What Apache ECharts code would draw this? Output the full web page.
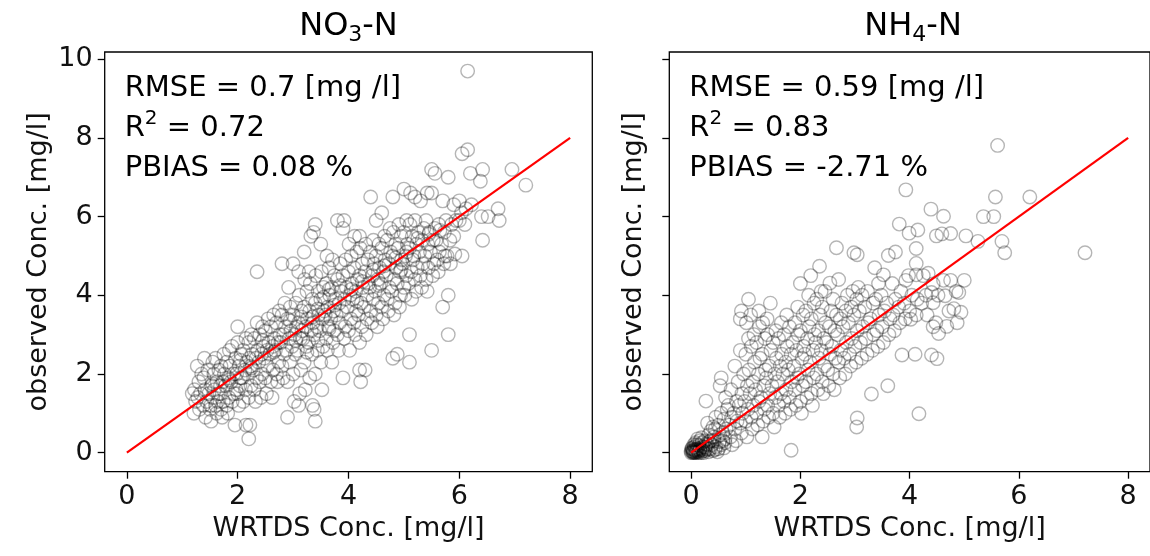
<!DOCTYPE html>
<html><head><meta charset="utf-8">
<script src="https://cdn.jsdelivr.net/npm/echarts@6/dist/echarts.min.js"></script>
<style>html,body{margin:0;padding:0;background:#fff}#c{width:1150px;height:556px}</style>
</head><body><div id="c"></div>
<script>
const xTicks = [0, 2, 4, 6, 8];
const yTicks = [0, 2, 4, 6, 8, 10];
const xLabel = 'WRTDS Conc. [mg/l]';
const yLabel = 'observed Conc. [mg/l]';
const oneToOne = [[0, 0], [8, 8]];
const titleParts = [['NO', '3', '-N'], ['NH', '4', '-N']];
const statsNO3 = ['RMSE = 0.7 [mg /l]', '0.72', 'PBIAS = 0.08 %'];
const statsNH4 = ['RMSE = 0.59 [mg /l]', '0.83', 'PBIAS = -2.71 %'];

const no3Points = [
[1.21,1.0],[1.24,1.3],[1.18,1.5],[1.22,1.6],
[1.31,1.1],[1.28,1.4],[1.33,1.5],[1.3,1.8],[1.27,2.2],[1.35,2.0],
[1.42,0.9],[1.38,1.2],[1.44,1.3],[1.41,1.6],[1.39,1.9],[1.46,2.1],[1.4,2.4],
[1.52,0.8],[1.5,1.1],[1.55,1.4],[1.48,1.5],[1.53,1.7],[1.57,2.0],[1.55,2.3],[1.51,1.2],
[1.62,1.0],[1.6,1.2],[1.64,1.3],[1.58,1.6],[1.63,1.8],[1.66,2.1],[1.6,2.4],[1.65,1.5],
[1.72,0.9],[1.7,1.1],[1.74,1.3],[1.68,1.5],[1.73,1.8],[1.76,2.0],[1.7,2.2],[1.75,2.5],[1.69,1.7],
[1.82,1.0],[1.8,1.2],[1.84,1.4],[1.78,1.7],[1.83,1.9],[1.86,2.2],[1.8,2.3],[1.85,2.6],
[1.95,0.7],[1.9,1.3],[1.94,1.5],[1.88,1.8],[1.93,2.0],[1.96,2.4],[1.9,2.7],[1.97,1.6],
[2.02,1.2],[2.0,1.5],[2.04,1.7],[1.98,2.0],[2.03,2.2],[2.06,2.5],[2.0,2.8],[2.0,3.2],[2.05,1.9],
[2.15,0.7],[2.1,1.3],[2.14,1.6],[2.08,1.9],[2.13,2.1],[2.16,2.3],[2.1,2.6],[2.15,2.9],
[2.2,0.35],[2.22,0.7],[2.2,1.4],[2.24,1.7],[2.18,2.0],[2.23,2.2],[2.26,2.5],[2.2,2.8],[2.25,3.0],[2.21,2.4],
[2.32,1.3],[2.3,1.6],[2.34,1.9],[2.28,2.1],[2.33,2.4],[2.36,2.6],[2.3,2.9],[2.35,3.3],
[2.42,1.4],[2.4,1.8],[2.44,2.0],[2.38,2.3],[2.43,2.5],[2.46,2.7],[2.4,3.0],[2.45,3.2],[2.35,4.6],
[2.52,1.5],[2.5,1.9],[2.54,2.2],[2.48,2.4],[2.53,2.6],[2.56,2.8],[2.5,3.1],[2.55,3.4],
[2.62,1.4],[2.6,1.8],[2.64,2.1],[2.58,2.5],[2.63,2.7],[2.66,2.9],[2.6,3.2],[2.65,3.5],
[2.72,1.8],[2.7,2.0],[2.74,2.3],[2.68,2.6],[2.73,2.8],[2.76,3.0],[2.7,3.3],[2.75,3.6],
[2.82,1.9],[2.8,2.2],[2.84,2.5],[2.78,2.8],[2.83,3.0],[2.86,3.2],[2.8,3.5],[2.85,3.8],[2.8,4.8],
[2.9,0.9],[2.9,1.8],[2.94,2.3],[2.88,2.6],[2.93,2.9],[2.96,3.1],[2.9,3.4],[2.95,3.7],[2.92,4.2],
[3.02,1.3],[3.0,2.0],[3.04,2.5],[2.98,2.7],[3.03,3.0],[3.06,3.2],[3.0,3.5],[3.05,3.8],[3.0,4.8],
[3.1,1.2],[3.12,1.5],[3.14,2.1],[3.08,2.6],[3.13,2.9],[3.16,3.1],[3.1,3.3],[3.15,3.6],[3.11,4.0],[3.1,4.6],
[3.22,1.6],[3.2,2.3],[3.24,2.7],[3.18,2.9],[3.23,3.2],[3.26,3.4],[3.2,3.7],[3.25,4.1],[3.21,4.4],[3.2,5.1],
[3.35,1.2],[3.3,1.9],[3.34,2.5],[3.28,2.8],[3.33,3.1],[3.36,3.3],[3.3,3.6],[3.35,3.9],[3.31,4.3],[3.29,4.6],[3.32,5.5],
[3.4,0.8],[3.38,1.1],[3.4,2.0],[3.44,2.6],[3.38,3.0],[3.43,3.2],[3.46,3.5],[3.4,3.8],[3.45,4.1],[3.41,4.5],[3.37,5.6],[3.4,5.8],
[3.52,1.6],[3.5,2.3],[3.54,2.7],[3.48,3.1],[3.53,3.4],[3.56,3.6],[3.5,3.9],[3.55,4.2],[3.51,4.6],[3.5,5.3],
[3.62,2.6],[3.6,2.9],[3.64,3.2],[3.58,3.5],[3.63,3.7],[3.66,4.0],[3.6,4.3],[3.65,4.7],[3.61,5.0],
[3.7,2.3],[3.72,2.8],[3.74,3.1],[3.68,3.4],[3.73,3.6],[3.76,3.9],[3.7,4.2],[3.75,4.5],[3.71,4.9],
[3.82,2.6],[3.8,3.0],[3.84,3.3],[3.78,3.5],[3.83,3.8],[3.86,4.1],[3.8,4.4],[3.85,4.8],[3.8,5.9],
[3.9,1.9],[3.92,2.9],[3.94,3.2],[3.88,3.6],[3.93,3.9],[3.96,4.2],[3.9,4.5],[3.95,4.9],[3.92,5.9],[3.9,5.7],
[4.02,2.6],[4.0,3.1],[4.04,3.4],[3.98,3.7],[4.03,4.0],[4.06,4.3],[4.0,4.6],[4.05,5.0],[4.01,5.3],
[4.12,3.0],[4.1,3.3],[4.14,3.6],[4.08,3.9],[4.13,4.1],[4.16,4.4],[4.1,4.7],[4.15,5.1],[4.11,5.5],
[4.2,2.1],[4.22,1.8],[4.2,2.8],[4.24,3.2],[4.18,3.5],[4.23,3.8],[4.26,4.2],[4.2,4.5],[4.25,4.8],[4.21,5.2],[4.2,5.5],
[4.3,2.1],[4.32,3.0],[4.34,3.4],[4.28,3.7],[4.33,4.0],[4.36,4.3],[4.3,4.6],[4.35,4.9],[4.31,5.3],
[4.42,3.3],[4.4,3.6],[4.44,3.9],[4.38,4.2],[4.43,4.5],[4.46,4.8],[4.4,5.1],[4.45,5.4],[4.4,6.5],
[4.52,3.2],[4.5,3.5],[4.54,3.8],[4.48,4.1],[4.53,4.4],[4.56,4.7],[4.5,5.0],[4.55,5.3],[4.5,5.9],
[4.62,3.4],[4.6,3.7],[4.64,4.0],[4.58,4.3],[4.63,4.6],[4.66,4.9],[4.6,5.2],[4.65,5.5],[4.6,6.1],
[4.72,3.6],[4.7,3.9],[4.74,4.2],[4.68,4.5],[4.73,4.8],[4.76,5.1],[4.7,5.4],[4.75,5.7],
[4.8,2.4],[4.82,3.5],[4.84,3.8],[4.78,4.1],[4.83,4.4],[4.86,4.7],[4.8,5.0],[4.85,5.3],[4.81,5.6],[4.8,6.5],
[4.88,2.5],[4.92,3.7],[4.94,4.0],[4.88,4.3],[4.93,4.6],[4.96,4.9],[4.9,5.2],[4.95,5.5],[4.91,5.8],
[5.02,4.0],[5.0,4.2],[5.04,4.5],[4.98,4.8],[5.03,5.0],[5.06,5.3],[5.0,5.6],[5.05,5.9],[5.0,6.7],
[5.1,2.3],[5.1,3.0],[5.14,3.9],[5.08,4.3],[5.13,4.6],[5.16,4.9],[5.1,5.2],[5.15,5.5],[5.11,5.8],[5.12,6.6],
[5.22,4.1],[5.2,4.4],[5.24,4.7],[5.18,5.0],[5.23,5.3],[5.26,5.6],[5.2,5.9],[5.2,6.5],
[5.32,4.2],[5.3,4.5],[5.34,4.8],[5.28,5.1],[5.33,5.4],[5.36,5.7],[5.3,6.4],
[5.42,4.1],[5.4,4.4],[5.44,4.7],[5.38,5.0],[5.43,5.3],[5.46,5.6],[5.4,5.9],[5.42,6.6],
[5.5,2.6],[5.52,4.5],[5.54,4.8],[5.48,5.1],[5.53,5.4],[5.56,5.7],[5.5,6.6],[5.5,7.2],
[5.62,4.6],[5.6,4.9],[5.64,5.1],[5.58,5.4],[5.63,5.8],[5.56,7.1],
[5.7,3.7],[5.72,4.8],[5.74,5.0],[5.68,5.3],[5.73,5.6],[5.76,5.9],[5.7,6.4],
[5.8,3.0],[5.8,4.0],[5.84,4.8],[5.78,5.0],[5.83,5.4],[5.86,5.8],[5.8,7.0],
[5.92,5.05],[5.9,5.5],[5.94,5.9],[5.9,6.3],
[6.05,5.0],[6.0,5.9],[6.04,6.1],[6.0,6.4],[6.05,7.6],
[6.1,5.8],[6.12,6.2],[6.15,7.7],[6.15,9.7],
[6.22,6.3],[6.2,7.1],
[6.42,5.4],[6.4,6.0],[6.38,6.9],[6.42,7.2],
[6.52,6.0],[6.72,5.9],[6.7,6.2],[6.95,7.2],[7.2,6.8],
[2.05,2.35],[2.45,2.85],[2.95,3.35],[3.15,3.45],[3.45,3.65],[3.55,3.95],[3.65,4.15],[3.85,4.25],[4.05,4.15],[4.25,4.35],
[4.45,4.65],[4.65,4.75],[4.85,4.95],[5.05,5.1],[5.25,5.45],[5.45,5.55],[5.65,5.65],[3.05,2.85],[3.35,3.45],[3.75,3.75],
[4.15,3.85],[4.55,4.25],[4.95,4.65],[2.65,2.55],[2.25,2.15],[1.85,1.85],[1.55,1.75],[3.25,2.55],[3.45,2.85],[3.65,3.15]
];

const nh4Points = [
[0.0,0.0],[0.02,0.03],[0.05,0.0],[0.08,0.05],[0.1,0.02],[0.03,0.08],[0.12,0.1],[0.15,0.05],[0.18,0.0],[0.2,0.08],
[0.06,0.15],[0.1,0.2],[0.14,0.18],[0.22,0.15],[0.25,0.05],[0.28,0.1],[0.3,0.2],[0.2,0.25],[0.16,0.3],[0.08,0.25],
[0.12,0.35],[0.25,0.3],[0.32,0.02],[0.35,0.1],[0.4,0.05],[0.38,0.2],[0.45,0.15],[0.5,0.1],[0.55,0.2],[0.6,0.12],
[0.04,0.05],[0.07,0.01],[0.01,0.1],[0.0,0.04],[0.09,0.0],[0.13,0.02],[0.17,0.12],[0.23,0.0],[0.05,0.2],[0.19,0.38],
[0.27,0.22],[0.33,0.28],[0.42,0.3],[0.48,0.02],[0.52,0.28],[0.62,0.25],[0.03,0.0],[0.06,0.07],[0.11,0.06],[0.14,0.0],
[0.02,0.12],[0.04,0.02],[0.09,0.09],[0.16,0.08],[0.21,0.04],[0.26,0.14],[0.31,0.08],[0.36,0.3],[0.44,0.08],[0.58,0.3],
[0.27,1.31],[0.32,0.45],[0.3,0.75],[0.36,0.55],
[0.42,0.4],[0.4,0.65],[0.45,0.9],[0.44,0.6],
[0.52,0.45],[0.5,0.7],[0.55,1.0],[0.55,1.9],[0.53,1.7],[0.58,0.5],
[0.62,0.35],[0.64,0.6],[0.6,0.85],[0.66,1.1],[0.63,1.4],
[0.72,0.4],[0.7,0.7],[0.74,0.9],[0.68,1.2],[0.73,1.6],[0.75,0.2],
[0.82,0.3],[0.8,0.6],[0.84,0.8],[0.78,1.0],[0.83,1.3],[0.86,1.8],[0.8,2.2],
[0.92,0.5],[0.9,0.75],[0.94,1.0],[0.88,1.2],[0.93,1.5],[0.96,2.0],[0.9,2.6],[0.9,3.4],[0.92,3.6],
[1.02,0.4],[1.0,0.8],[1.04,1.1],[0.98,1.3],[1.03,1.7],[1.06,2.1],[1.0,2.5],[1.05,2.9],[1.01,3.3],[1.05,3.9],
[1.12,0.6],[1.1,0.9],[1.14,1.2],[1.08,1.5],[1.13,1.8],[1.16,2.3],[1.1,2.7],[1.15,3.0],[1.09,3.5],
[1.22,0.7],[1.2,1.0],[1.24,1.3],[1.18,1.6],[1.23,2.0],[1.26,2.4],[1.2,2.8],[1.25,3.2],[1.24,3.6],
[1.3,0.4],[1.32,0.8],[1.34,1.1],[1.28,1.4],[1.33,1.7],[1.36,2.1],[1.3,2.5],[1.35,2.9],[1.31,3.3],
[1.42,0.9],[1.4,1.2],[1.44,1.5],[1.38,1.9],[1.43,2.2],[1.46,2.6],[1.4,3.0],[1.39,3.4],[1.45,3.8],
[1.52,0.65],[1.5,1.0],[1.54,1.4],[1.48,1.7],[1.53,2.0],[1.56,2.4],[1.5,2.8],[1.55,3.1],
[1.62,0.9],[1.6,1.2],[1.64,1.5],[1.58,1.8],[1.63,2.2],[1.66,2.5],[1.6,2.9],[1.65,3.3],
[1.72,1.0],[1.7,1.3],[1.74,1.6],[1.68,2.0],[1.73,2.3],[1.76,2.7],[1.7,3.0],[1.75,3.5],
[1.83,0.06],[1.82,1.1],[1.8,1.4],[1.84,1.8],[1.78,2.1],[1.83,2.5],[1.86,2.8],[1.8,3.2],
[1.92,1.2],[1.9,1.6],[1.94,1.9],[1.88,2.2],[1.93,2.6],[1.96,3.0],[1.9,3.3],[1.95,3.7],
[2.02,1.0],[2.0,1.3],[2.04,1.7],[1.98,2.0],[2.03,2.4],[2.06,2.7],[2.0,3.1],[2.05,3.5],[2.0,4.3],
[2.12,1.4],[2.1,1.8],[2.14,2.1],[2.08,2.5],[2.13,2.9],[2.16,3.2],[2.1,3.6],[2.15,4.0],
[2.22,1.2],[2.2,1.5],[2.24,1.9],[2.18,2.3],[2.23,2.6],[2.26,3.0],[2.2,3.4],[2.25,3.8],[2.19,4.5],
[2.32,1.6],[2.3,2.0],[2.34,2.4],[2.28,2.8],[2.33,3.1],[2.36,3.5],[2.3,3.9],[2.38,4.1],
[2.42,1.5],[2.4,1.8],[2.44,2.2],[2.38,2.6],[2.43,2.9],[2.46,3.3],[2.4,3.7],[2.45,4.1],[2.35,4.74],
[2.52,1.7],[2.5,2.1],[2.54,2.5],[2.48,2.8],[2.53,3.2],[2.56,3.6],[2.54,4.31],
[2.62,1.6],[2.6,2.0],[2.64,2.4],[2.58,2.7],[2.63,3.1],[2.66,3.5],[2.6,3.9],[2.66,5.21],
[2.72,1.9],[2.7,2.3],[2.74,2.6],[2.68,3.0],[2.73,3.4],[2.76,3.8],[2.7,4.4],
[2.82,2.0],[2.8,2.4],[2.84,2.8],[2.78,3.2],[2.83,3.6],[2.86,4.0],
[2.92,2.2],[2.9,2.5],[2.94,2.9],[2.88,3.3],[2.93,3.7],[2.96,4.1],
[3.03,0.65],[3.04,0.88],[3.02,2.3],[3.0,2.7],[3.04,3.1],[2.98,3.5],[3.03,3.9],[3.06,4.2],[2.98,5.08],
[3.12,2.4],[3.1,2.8],[3.14,3.2],[3.08,3.6],[3.13,4.0],[3.04,5.03],
[3.22,2.5],[3.2,2.9],[3.24,3.3],[3.18,3.7],[3.23,4.1],
[3.3,1.49],[3.32,2.6],[3.34,3.0],[3.28,3.4],[3.33,3.8],[3.36,4.7],
[3.42,2.7],[3.4,3.1],[3.44,3.5],[3.38,3.9],[3.43,4.3],
[3.52,2.8],[3.5,3.2],[3.54,3.6],[3.48,4.0],[3.52,4.52],[3.61,5.01],
[3.6,1.7],[3.62,3.0],[3.64,3.4],[3.58,3.8],[3.74,5.1],
[3.72,3.1],[3.7,3.5],[3.74,3.9],[3.68,4.3],
[3.86,2.48],[3.82,3.3],[3.8,3.7],[3.84,4.1],[3.81,5.81],
[3.92,3.4],[3.9,3.8],[3.93,4.38],[3.93,6.68],
[4.02,3.39],[4.0,3.6],[4.04,4.0],[3.98,4.5],[3.99,5.58],
[4.1,2.5],[4.12,3.5],[4.14,3.9],[4.12,4.52],[4.12,4.81],[4.12,5.19],[4.15,5.66],
[4.17,0.99],[4.22,3.8],[4.25,4.5],
[4.32,3.5],[4.3,4.0],[4.34,4.56],
[4.4,2.48],[4.43,3.2],[4.4,4.07],[4.43,4.29],[4.39,6.19],[4.43,3.81],
[4.5,2.39],[4.53,3.03],[4.48,3.3],[4.52,4.0],[4.49,5.51],
[4.62,4.38],[4.59,5.56],[4.62,6.01],[4.65,3.99],[4.68,3.21],
[4.75,4.38],[4.75,5.57],[4.72,3.6],
[4.81,3.66],[4.87,3.30],[4.9,4.07],[4.85,4.1],
[4.94,3.57],[5.0,4.38],
[5.03,5.51],[5.25,5.37],[5.35,6.0],[5.54,6.0],[5.57,6.5],[5.61,7.81],[5.69,5.37],[5.74,5.08],[6.2,6.5],[7.21,5.08]
];

const FONT = 'DejaVu Sans';
const TXT = '#111';
const GRID = { top: 52, height: 419.7, width: 487.6 };
const LEFTS = [104.7, 669.3];

function xAxis(i) {
  return {
    type: 'value', gridIndex: i, min: -0.4, max: 8.4, position: 'bottom',
    name: xLabel, nameLocation: 'middle', nameGap: 40,
    nameTextStyle: { fontFamily: FONT, fontSize: 27, color: TXT },
    splitLine: { show: false },
    axisLine: { show: false, onZero: false },
    axisTick: { show: true, length: 7, customValues: xTicks, lineStyle: { color: '#000', width: 1.3 } },
    axisLabel: { show: true, customValues: xTicks, margin: 12, fontFamily: FONT, fontSize: 27, color: TXT }
  };
}
function yAxis(i) {
  return {
    type: 'value', gridIndex: i, min: -0.485, max: 10.185, position: 'left',
    name: yLabel, nameLocation: 'middle', nameGap: i === 0 ? 52 : 22,
    nameTextStyle: { fontFamily: FONT, fontSize: 27, color: TXT },
    splitLine: { show: false },
    axisLine: { show: false, onZero: false },
    axisTick: { show: true, length: 7, customValues: yTicks, lineStyle: { color: '#000', width: 1.3 } },
    axisLabel: { show: i === 0, customValues: yTicks, margin: 12, fontFamily: FONT, fontSize: 27, color: TXT }
  };
}
function scatter(i, data) {
  return {
    type: 'scatter', xAxisIndex: i, yAxisIndex: i, data: data,
    symbol: 'circle', symbolSize: 13.5, z: 2,
    itemStyle: { color: 'rgba(0,0,0,0)', borderColor: 'rgba(0,0,0,0.36)', borderWidth: 1.4 },
    emphasis: { disabled: true }, silent: true
  };
}
function line(i) {
  return {
    type: 'line', xAxisIndex: i, yAxisIndex: i, data: oneToOne,
    symbol: 'none', z: 5, silent: true,
    lineStyle: { color: '#f00', width: 2.2 }
  };
}
const mainRich = {
  a: { fontFamily: FONT, fontSize: 32, color: TXT, lineHeight: 40 },
  s: { fontFamily: FONT, fontSize: 22, color: TXT, lineHeight: 22, verticalAlign: 'bottom' }
};
const statRich = {
  a: { fontFamily: FONT, fontSize: 29, color: TXT, lineHeight: 40 },
  p: { fontFamily: FONT, fontSize: 20, color: TXT, lineHeight: 24, verticalAlign: 'top' }
};
function titleGraphic(i) {
  const t = titleParts[i];
  return {
    type: 'text', x: LEFTS[i] + GRID.width / 2, y: 6.4, silent: true,
    style: { text: '{a|' + t[0] + '}{s|' + t[1] + '}{a|' + t[2] + '}', rich: mainRich, align: 'center', verticalAlign: 'top' }
  };
}
function statGraphic(i, s) {
  return {
    type: 'text', x: LEFTS[i] + 20, y: 68.3, silent: true,
    style: { text: '{a|' + s[0] + '}\n{a|R}{p|2}{a| = ' + s[1] + '}\n{a|' + s[2] + '}', rich: statRich, align: 'left', verticalAlign: 'top' }
  };
}

const chart = echarts.init(document.getElementById('c'), null, { renderer: 'canvas' });
chart.setOption({
  animation: false,
  backgroundColor: '#fff',
  grid: LEFTS.map(l => ({ left: l, top: GRID.top, width: GRID.width, height: GRID.height, show: true, borderColor: '#000', borderWidth: 1.3, backgroundColor: 'transparent', containLabel: false })),
  xAxis: [xAxis(0), xAxis(1)],
  yAxis: [yAxis(0), yAxis(1)],
  series: [scatter(0, no3Points), scatter(1, nh4Points), line(0), line(1)],
  graphic: [titleGraphic(0), titleGraphic(1), statGraphic(0, statsNO3), statGraphic(1, statsNH4)]
});
</script>
</body></html>
